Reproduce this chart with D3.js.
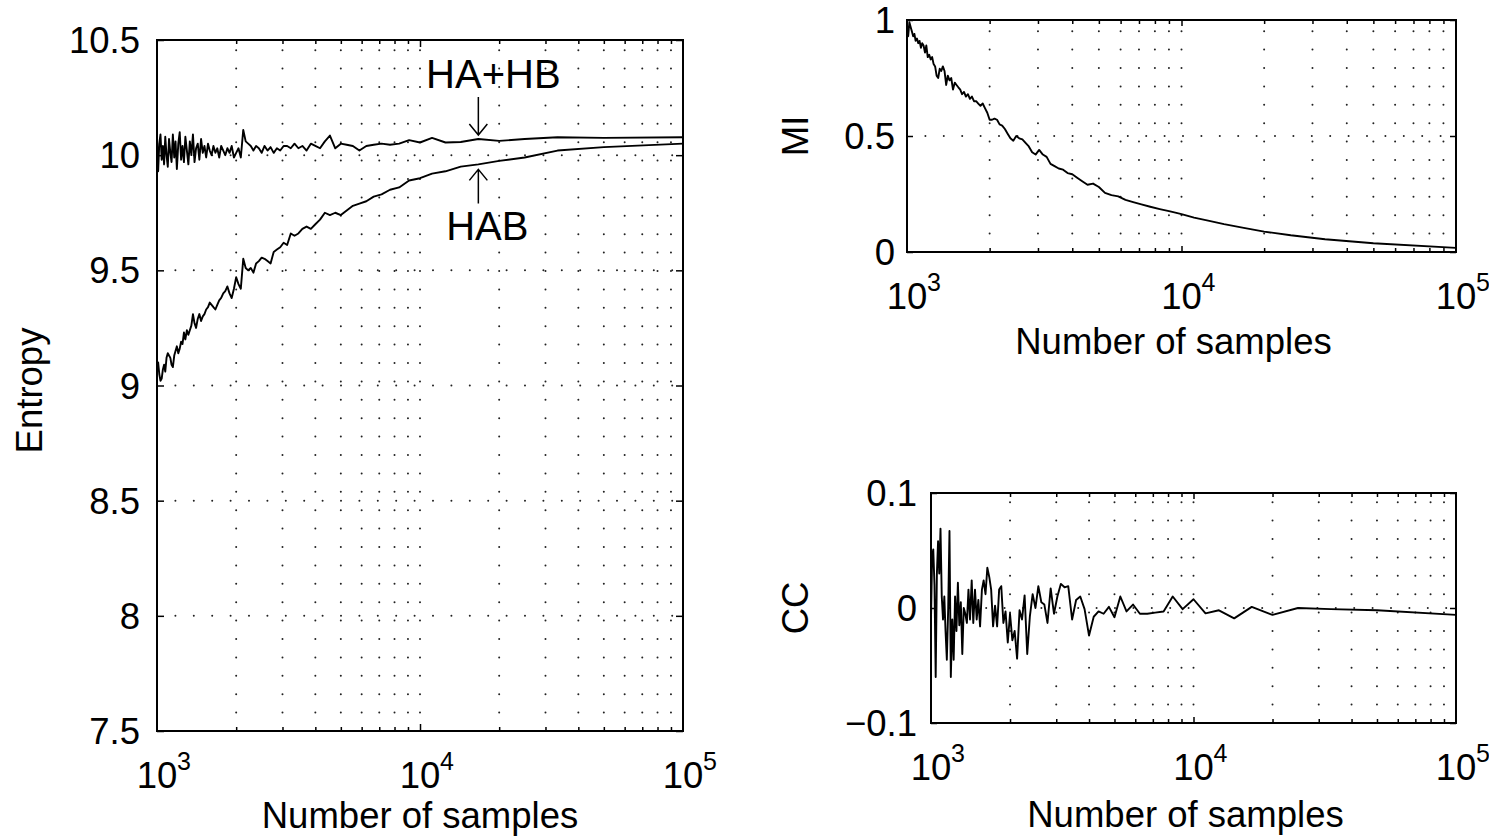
<!DOCTYPE html>
<html>
<head>
<meta charset="utf-8">
<script src="https://cdn.jsdelivr.net/npm/d3@7"></script>
<style>
  body { margin: 0; background: #fff; }
  text { font-family: "Liberation Sans", Arial, Helvetica, sans-serif; fill: #000; }
  .grid { stroke: #222; stroke-width: 2; stroke-dasharray: 0 18.4; stroke-linecap: round; }
  .curve { fill: none; stroke: #000; stroke-width: 1.9; stroke-linejoin: round; }
  .frame { fill: none; stroke: #000; stroke-width: 2; }
  .ticks line { stroke: #000; stroke-width: 1.5; }
  .arrow { fill: none; stroke: #000; stroke-width: 1.5; }
</style>
</head>
<body>
<svg id="fig" width="1489" height="840"></svg>
<script>
// number of samples (x), shared by all four curves
const samples = [1000,1010,1020,1031,1042,1053,1064,1075,1087,1099,
  1111,1124,1136,1149,1163,1176,1190,1205,1220,1235,
  1250,1266,1282,1299,1316,1333,1351,1370,1389,1408,
  1429,1449,1471,1493,1515,1538,1563,1587,1613,1639,
  1667,1695,1724,1754,1786,1818,1852,1887,1923,1961,
  2000,2041,2083,2128,2174,2222,2273,2326,2381,2439,
  2500,2564,2632,2703,2778,2857,2941,3030,3125,3226,
  3333,3448,3571,3704,3846,4000,4167,4348,4545,4762,
  5000,5263,5556,5882,6250,6667,7143,7692,8333,9091,
  10000,11111,12500,14286,16667,20000,25000,33333,50000,100000];

const hAplusB = [10.06,9.93,10.05,10.09,9.98,10.04,9.96,10.08,10.00,9.95,
  10.07,10.01,9.97,10.09,9.99,10.06,9.94,10.05,10.10,9.98,
  10.04,9.97,10.08,10.02,9.96,10.06,10.00,10.09,9.97,10.03,
  10.05,9.98,10.07,10.01,10.04,9.99,10.05,10.02,10.00,10.04,
  10.01,10.03,9.99,10.04,10.02,10.00,10.03,10.01,10.04,9.99,
  10.01,10.03,9.99,10.11,10.06,10.05,10.04,10.02,10.04,10.03,
  10.01,10.04,10.02,10.035,10.01,10.03,10.02,10.04,10.04,10.03,
  10.05,10.03,10.04,10.02,10.05,10.04,10.03,10.06,10.085,10.03,
  10.05,10.045,10.04,10.02,10.04,10.045,10.05,10.045,10.05,10.065,
  10.055,10.075,10.055,10.057,10.07,10.062,10.07,10.078,10.075,10.078];

const hAB = [9.06,9.10,9.05,9.02,9.03,9.07,9.09,9.06,9.12,9.14,
  9.13,9.12,9.09,9.08,9.13,9.15,9.17,9.14,9.16,9.19,
  9.18,9.23,9.20,9.24,9.22,9.24,9.26,9.31,9.27,9.25,
  9.29,9.31,9.28,9.30,9.31,9.33,9.34,9.36,9.35,9.34,
  9.33,9.35,9.37,9.38,9.40,9.41,9.43,9.40,9.38,9.42,
  9.47,9.44,9.42,9.55,9.51,9.50,9.51,9.49,9.53,9.54,
  9.555,9.55,9.54,9.53,9.58,9.59,9.60,9.62,9.61,9.66,
  9.65,9.66,9.68,9.69,9.68,9.70,9.72,9.75,9.74,9.75,
  9.74,9.76,9.78,9.79,9.80,9.82,9.83,9.85,9.86,9.89,
  9.90,9.92,9.93,9.95,9.96,9.975,9.99,10.02,10.035,10.05];

const mutualInfo = [0.98,0.93,0.99,0.97,0.95,0.93,0.94,0.91,0.92,0.90,
  0.91,0.88,0.90,0.89,0.86,0.89,0.84,0.85,0.83,0.84,
  0.81,0.80,0.76,0.75,0.79,0.78,0.80,0.78,0.72,0.76,
  0.74,0.75,0.70,0.73,0.72,0.71,0.70,0.68,0.69,0.67,
  0.68,0.66,0.67,0.65,0.65,0.64,0.63,0.64,0.62,0.60,
  0.57,0.57,0.575,0.57,0.55,0.545,0.53,0.51,0.49,0.48,
  0.50,0.49,0.485,0.47,0.455,0.43,0.42,0.44,0.42,0.41,
  0.38,0.37,0.36,0.355,0.34,0.335,0.32,0.305,0.29,0.295,
  0.28,0.255,0.245,0.24,0.225,0.215,0.205,0.195,0.185,0.175,
  0.163,0.148,0.135,0.12,0.105,0.088,0.072,0.055,0.038,0.018];

const corrCoef = [-0.01,0.045,0.051,0.02,-0.06,0.03,0.058,0.03,0.069,0.01,
  -0.01,0.01,-0.02,-0.045,0.0,0.067,-0.06,-0.01,-0.045,0.01,
  -0.02,0.022,-0.015,0.005,-0.04,0.0,-0.005,-0.013,0.016,-0.01,
  0.024,-0.013,0.016,-0.01,0.007,-0.016,0.016,0.024,0.012,0.035,
  0.027,0.016,-0.016,0.002,-0.016,0.016,0.019,-0.013,-0.003,-0.03,
  -0.005,-0.028,-0.02,-0.044,-0.002,-0.01,0.011,-0.04,-0.007,0.012,
  0.0,0.019,0.005,0.003,-0.013,0.017,-0.005,0.01,0.021,0.018,
  0.019,-0.01,0.007,0.01,-0.001,-0.024,-0.0076,-0.003,-0.005,0.001,
  -0.008,0.010,-0.003,0.003,-0.005,-0.005,-0.004,-0.003,0.010,-0.001,
  0.0076,-0.0047,-0.002,-0.009,0.001,-0.006,0.0,-0.001,-0.002,-0.006];

const decadeTicks = [1e3, 1e4, 1e5];
const decadeExponents = ["3", "4", "5"];
const minorTicks = [2000,3000,4000,5000,6000,7000,8000,9000,
  20000,30000,40000,50000,60000,70000,80000,90000];
const gridTicks = minorTicks.concat([1e4]);

const entropyTicks = [7.5, 8, 8.5, 9, 9.5, 10, 10.5];
const entropyLabels = ["7.5", "8", "8.5", "9", "9.5", "10", "10.5"];
const miTicks = [0, 0.5, 1];
const miLabels = ["0", "0.5", "1"];
const ccTicks = [-0.1, 0, 0.1];
const ccLabels = ["\u22120.1", "0", "0.1"];

const svg = d3.select("#fig");
svg.append("rect").attr("width", 1489).attr("height", 840).attr("fill", "#fff");

function drawPanel(p) {
  const w = p.right - p.left, h = p.bottom - p.top;
  const x = d3.scaleLog().domain([1e3, 1e5]).range([0, w]);
  const y = d3.scaleLinear().domain(p.yDomain).range([h, 0]);
  const g = svg.append("g").attr("transform", "translate(" + p.left + "," + p.top + ")");

  // dotted grid (minor x grid + inner y ticks)
  g.append("g").selectAll("line").data(gridTicks).join("line")
    .attr("class", "grid")
    .attr("x1", d => x(d)).attr("x2", d => x(d))
    .attr("y1", h).attr("y2", 0);
  g.append("g").selectAll("line").data(p.yTicks.slice(1, -1)).join("line")
    .attr("class", "grid")
    .attr("x1", 0).attr("x2", w)
    .attr("y1", d => y(d)).attr("y2", d => y(d));

  // curves
  const line = d3.line().x((d, i) => x(samples[i])).y(d => y(d));
  p.series.forEach(s => g.append("path").attr("class", "curve").attr("d", line(s)));

  // inward ticks on all four sides
  const addTicks = (axis, tr) => g.append("g").attr("class", "ticks")
    .attr("transform", tr).call(axis)
    .call(a => a.select(".domain").remove())
    .call(a => a.selectAll("text").remove());
  const major = p.major, minor = 4;
  addTicks(d3.axisBottom(x).tickValues(minorTicks).tickSize(-minor), "translate(0," + h + ")");
  addTicks(d3.axisBottom(x).tickValues([1e4]).tickSize(-major), "translate(0," + h + ")");
  addTicks(d3.axisTop(x).tickValues(minorTicks).tickSize(-minor), "translate(0,0)");
  addTicks(d3.axisTop(x).tickValues([1e4]).tickSize(-major), "translate(0,0)");
  addTicks(d3.axisLeft(y).tickValues(p.yTicks).tickSize(-major), "translate(0,0)");
  addTicks(d3.axisRight(y).tickValues(p.yTicks).tickSize(-major), "translate(" + w + ",0)");

  g.append("rect").attr("class", "frame").attr("width", w).attr("height", h);

  // y tick labels
  g.append("g").selectAll("text").data(p.yTicks).join("text")
    .attr("x", -p.yLabelGap).attr("y", d => y(d)).attr("dy", "0.36em")
    .attr("text-anchor", "end").attr("font-size", 36.5)
    .text((d, i) => p.yLabels[i]);

  // x tick labels 10^n
  const xl = g.append("g").selectAll("g").data(decadeTicks).join("g");
  xl.append("text").attr("x", d => x(d)).attr("y", h + 57)
    .attr("text-anchor", "middle").attr("font-size", 36.5).text("10");
  xl.append("text").attr("x", d => x(d) + 20).attr("y", h + 39)
    .attr("font-size", 25).text((d, i) => decadeExponents[i]);

  // axis titles
  g.append("text").attr("x", w / 2 + p.titleShift).attr("y", h + p.titleDrop)
    .attr("text-anchor", "middle").attr("font-size", 36.5).text("Number of samples");
  g.append("text")
    .attr("transform", "translate(" + (p.titleX - p.left) + "," + (h / 2 + p.yTitleShift) + ") rotate(-90)")
    .attr("text-anchor", "middle").attr("font-size", 36.5).text(p.title);

  return { g: g, x: x, y: y };
}

const left = drawPanel({
  left: 157, right: 683, top: 40, bottom: 731,
  yDomain: [7.5, 10.5], yTicks: entropyTicks, yLabels: entropyLabels,
  series: [hAplusB, hAB], major: 7, yLabelGap: 17, titleX: 42, title: "Entropy",
  titleShift: 0, titleDrop: 97, yTitleShift: 5
});
drawPanel({
  left: 907, right: 1456, top: 20, bottom: 252,
  yDomain: [0, 1], yTicks: miTicks, yLabels: miLabels,
  series: [mutualInfo], major: 6, yLabelGap: 12, titleX: 808, title: "MI",
  titleShift: -8, titleDrop: 102, yTitleShift: 0
});
drawPanel({
  left: 931, right: 1456, top: 493, bottom: 723,
  yDomain: [-0.1, 0.1], yTicks: ccTicks, yLabels: ccLabels,
  series: [corrCoef], major: 6, yLabelGap: 14, titleX: 808, title: "CC",
  titleShift: -8, titleDrop: 104, yTitleShift: 0
});

// annotations with arrows in the entropy panel
const ax = left.x(16667);
const tipTop = left.y(hAplusB[94]) - 4;
const tipBottom = left.y(hAB[94]) + 5;
left.g.append("path").attr("class", "arrow")
  .attr("d", "M" + ax + "," + (tipTop - 38) + "V" + tipTop +
    "M" + (ax - 9) + "," + (tipTop - 11) + "L" + ax + "," + tipTop + "L" + (ax + 9) + "," + (tipTop - 11));
left.g.append("path").attr("class", "arrow")
  .attr("d", "M" + ax + "," + (tipBottom + 34) + "V" + tipBottom +
    "M" + (ax - 9) + "," + (tipBottom + 11) + "L" + ax + "," + tipBottom + "L" + (ax + 9) + "," + (tipBottom + 11));
left.g.append("text").attr("x", ax + 15).attr("y", tipTop - 47)
  .attr("text-anchor", "middle").attr("font-size", 40).text("HA+HB");
left.g.append("text").attr("x", ax + 9).attr("y", tipBottom + 71)
  .attr("text-anchor", "middle").attr("font-size", 40).text("HAB");
</script>
</body>
</html>
